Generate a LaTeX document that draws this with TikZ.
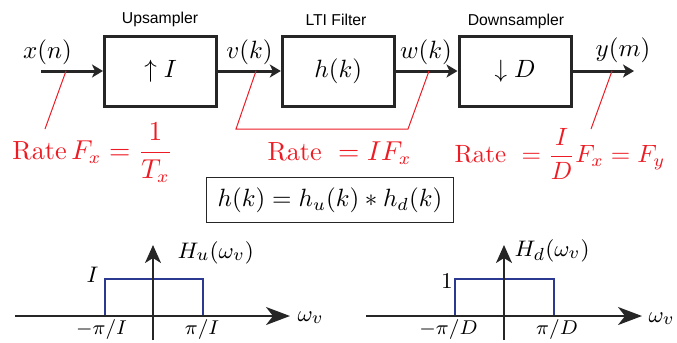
\documentclass[tikz,border=0pt]{standalone}
\usepackage{amsmath}
\usepackage{fontspec}
\newfontfamily\labelsans{Liberation Sans}
\usetikzlibrary{arrows.meta}
\definecolor{rrate}{RGB}{237,28,36}
\definecolor{bplot}{RGB}{43,57,144}
\tikzset{
  blk/.style={draw=black!85, line width=1.2pt, minimum width=44.8pt, minimum height=28pt, inner sep=0pt, font=\fontsize{10}{12}\selectfont},
  sig/.style={line width=1.2pt, draw=black!85, -{Stealth[length=4.4pt,width=5.2pt,inset=1.2pt]}},
  lbl/.style={inner sep=0pt, anchor=base, font=\fontsize{10}{12}\selectfont},
  toplbl/.style={inner sep=0pt, anchor=base, font=\labelsans\fontsize{6.3}{7.5}\selectfont},
  lead/.style={draw=rrate, line width=0.4pt},
  ratetxt/.style={inner sep=0pt, anchor=base west, text=rrate, font=\fontsize{10.5}{12.5}\selectfont},
  axh/.style={line width=0.8pt, draw=black!85, -{Stealth[length=9.6pt,width=7.2pt,inset=2.8pt]}},
  axv/.style={line width=0.8pt, draw=black!85, -{Stealth[length=7.2pt,width=6.4pt,inset=2pt]}},
  spec/.style={draw=bplot, line width=0.65pt},
  plbl/.style={inner sep=0pt, font=\fontsize{9.3}{11}\selectfont},
  tick/.style={inner sep=0pt, anchor=base, font=\fontsize{8.2}{10}\selectfont},
}
\begin{document}
\begin{tikzpicture}[x=0.4pt,y=-0.4pt]
\useasboundingbox (0,0) rectangle (677,342);
% blocks
\node[blk] (up) at (160.5,71) {$\uparrow I$};
\node[blk] (lti) at (338.3,71) {$h(k)$};
\node[blk] (dn) at (515,71) {$\downarrow D$};
\node[toplbl] (tup) at (160,23.5) {Upsampler};
\node[toplbl] (tlti) at (336,25) {LTI Filter};
\node[toplbl] (tdn) at (516,25) {Downsampler};
% signal arrows
\coordinate (in) at (41,71);
\coordinate (out) at (634,71);
\draw[sig] (in) -- (up.west);
\draw[sig] (up.east) -- (lti.west);
\draw[sig] (lti.east) -- (dn.west);
\draw[sig] (dn.east) -- (out);
\node[lbl] (xn) at (47.5,58) {$x(n)$};
\node[lbl] (vk) at (249.5,58) {$v(k)$};
\node[lbl] (wk) at (426,58) {$w(k)$};
\node[lbl] (ym) at (623,56) {$y(m)$};
% rate leaders
\coordinate (r1a) at (66,71);
\coordinate (r1b) at (45,129);
\coordinate (r2a) at (256,71);
\coordinate (r2b) at (236,129);
\coordinate (r2c) at (408,129);
\coordinate (r2d) at (429,71);
\coordinate (r3a) at (612,71);
\coordinate (r3b) at (591,129);
\draw[lead] (r1a) -- (r1b);
\draw[lead] (r2a) -- (r2b) -- (r2c) -- (r2d);
\draw[lead] (r3a) -- (r3b);
\node[ratetxt] (rate1) at (12,159.5) {$\mathrm{Rate}\,F_x=\dfrac{1}{T_x}$};
\node[ratetxt] (rate2) at (267,160) {$\mathrm{Rate}\ =IF_x$};
\node[ratetxt, font=\fontsize{10}{12}\selectfont] (rate3) at (454,162.5) {$\mathrm{Rate}\ =\dfrac{I}{D}F_x=F_y$};
% formula box
\node[draw=black!85, line width=0.5pt, minimum width=98.8pt, minimum height=18pt, inner sep=0pt, font=\fontsize{10.2}{12}\selectfont] (hk) at (330,200) {$h(k)=h_u(k)*h_d(k)$};
% left spectrum
\coordinate (lh0) at (15,316);
\coordinate (lh1) at (290,316);
\coordinate (lv0) at (153,340);
\coordinate (lv1) at (153,245);
\draw[spec] (105,316) -- (105,279) -- (203,279) -- (203,316);
\draw[axh] (lh0) -- (lh1);
\draw[axv] (lv0) -- (lv1);
\node[plbl, anchor=base west] (hu) at (177,258) {$H_u(\omega_v)$};
\node[plbl, anchor=base] (lI) at (92.5,282) {$I$};
\node[plbl, anchor=base west] (lw) at (297,321) {$\omega_v$};
\node[tick] (lm) at (101.5,334) {$-\pi/I$};
\node[tick] (lp) at (202,334) {$\pi/I$};
% right spectrum
\coordinate (rh0) at (366,316);
\coordinate (rh1) at (642,316);
\coordinate (rv0) at (504,340);
\coordinate (rv1) at (504,245);
\draw[spec] (455,316) -- (455,279) -- (554,279) -- (554,316);
\draw[axh] (rh0) -- (rh1);
\draw[axv] (rv0) -- (rv1);
\node[plbl, anchor=base west] (hd) at (514,256) {$H_d(\omega_v)$};
\node[plbl, anchor=base] (r1) at (447,288) {$1$};
\node[plbl, anchor=base west] (rw) at (648,322) {$\omega_v$};
\node[tick] (rm) at (448.5,334) {$-\pi/D$};
\node[tick] (rp) at (557,334) {$\pi/D$};
\end{tikzpicture}
\end{document}
